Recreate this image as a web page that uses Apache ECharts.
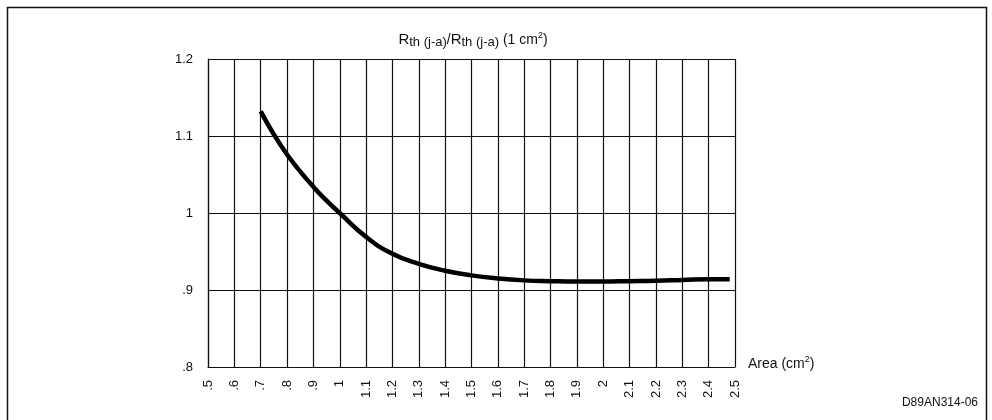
<!DOCTYPE html>
<html>
<head>
<meta charset="utf-8">
<script src="https://cdn.jsdelivr.net/npm/echarts@6/dist/echarts.min.js"></script>
<style>
  html, body { margin: 0; padding: 0; background: #fff; }
  #chart { width: 992px; height: 420px; }
</style>
</head>
<body>
<div id="chart"></div>
<script>
// area in cm2 and the normalised thermal resistance
const areaValues = [0.7, 0.75, 0.8, 0.85, 0.9, 0.95, 1.0, 1.1, 1.2, 1.3, 1.4, 1.5, 1.6, 1.7, 1.8, 1.9, 2.0, 2.1, 2.2, 2.3, 2.4, 2.48];
const rthValues = [1.132, 1.102, 1.076, 1.054, 1.034, 1.016, 1.000, 0.969, 0.947, 0.934, 0.925, 0.919, 0.915, 0.9125, 0.9115, 0.911, 0.911, 0.9115, 0.912, 0.913, 0.914, 0.914];

const xTickLabels = ['.5', '.6', '.7', '.8', '.9', '1', '1.1', '1.2', '1.3', '1.4', '1.5', '1.6', '1.7', '1.8', '1.9', '2', '2.1', '2.2', '2.3', '2.4', '2.5'];
const yTickLabels = ['.8', '.9', '1', '1.1', '1.2'];

const FONT = '"Liberation Sans", Arial, sans-serif';
const INK = '#111';

const chart = echarts.init(document.getElementById('chart'));

chart.setOption({
    animation: false,
    backgroundColor: '#fff',
    textStyle: { fontFamily: FONT, color: INK },
    title: {
        left: 468,
        textAlign: 'center',
        top: 26,
        text: '{r|R}{s|th (j-a)}{n|/}{r|R}{s|th (j-a)}{n| (1 cm}{sup|2}{n|)}',
        textStyle: {
            fontWeight: 'normal',
            rich: {
                r: { fontSize: 15, fontFamily: FONT, color: INK },
                s: { fontSize: 13, fontFamily: FONT, color: INK, padding: [5, 0, 0, 0] },
                n: { fontSize: 14, fontFamily: FONT, color: INK },
                sup: { fontSize: 9, fontFamily: FONT, color: INK, padding: [0, 0, 8, 0] }
            }
        }
    },
    grid: { left: 208, right: 257, top: 59, bottom: 53 },
    xAxis: {
        type: 'value',
        min: 0.5,
        max: 2.5,
        interval: 0.1,
        name: '{n|Area (cm}{sup|2}{n|)}',
        nameLocation: 'end',
        nameGap: 13,
        nameTextStyle: {
            rich: {
                n: { fontSize: 14, fontFamily: FONT, color: INK },
                sup: { fontSize: 9, fontFamily: FONT, color: INK, padding: [0, 0, 8, 0] }
            },
            padding: [0, 0, 6, 0]
        },
        axisLine: { lineStyle: { color: INK, width: 1.2 } },
        axisTick: { show: false },
        splitLine: { show: true, lineStyle: { color: INK, width: 1.2 } },
        axisLabel: {
            rotate: 90,
            margin: 13,
            fontSize: 13,
            fontFamily: FONT,
            color: INK,
            formatter: (v) => xTickLabels[Math.round(v * 10) - 5]
        }
    },
    yAxis: {
        type: 'value',
        min: 0.8,
        max: 1.2,
        interval: 0.1,
        axisLine: { show: true, lineStyle: { color: INK, width: 1.2 } },
        axisTick: { show: false },
        splitLine: { show: true, lineStyle: { color: INK, width: 1.2 } },
        axisLabel: {
            margin: 15,
            fontSize: 13,
            fontFamily: FONT,
            color: INK,
            formatter: (v) => yTickLabels[Math.round(v * 10) - 8]
        }
    },
    series: [{
        type: 'line',
        data: areaValues.map((a, i) => [a, rthValues[i]]),
        smooth: 0.5,
        showSymbol: false,
        lineStyle: { color: '#000', width: 4.5 }
    }],
    graphic: [
        {
            type: 'rect',
            shape: { x: 7.5, y: 7.5, width: 979, height: 430 },
            style: { fill: 'none', stroke: INK, lineWidth: 1.5 },
            silent: true
        },
        {
            type: 'text',
            right: 14,
            top: 397,
            style: { text: 'D89AN314-06', fontSize: 12, fontFamily: FONT, fill: INK }
        }
    ]
});

window.addEventListener('resize', () => chart.resize());
</script>
</body>
</html>
